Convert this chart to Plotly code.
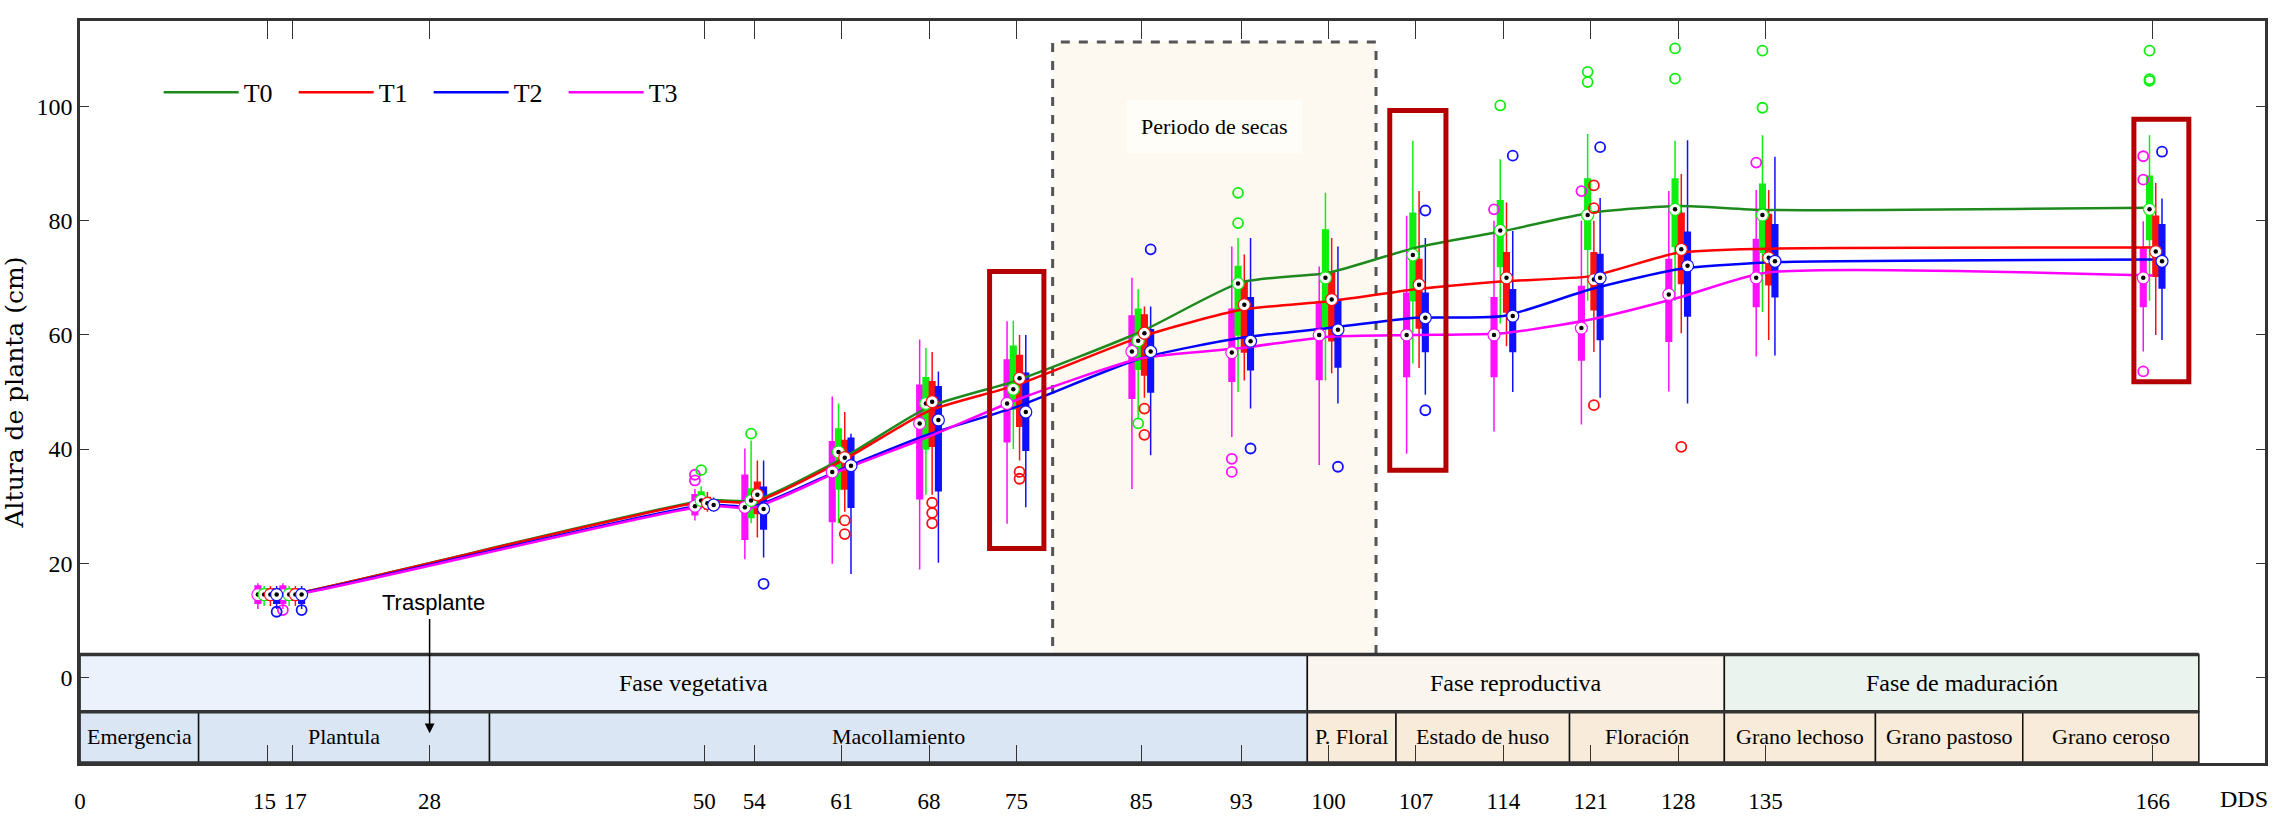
import plotly.graph_objects as go

# ---------------- data ----------------
days = [15, 17, 50, 54, 61, 68, 75, 85, 93, 100, 107, 114, 121, 128, 135, 166]
tick_days = [0, 15, 17, 28, 50, 54, 61, 68, 75, 85, 93, 100, 107, 114, 121, 128, 135, 166]
tick_labels = ["0", "15\u00a0", "\u00a017", "28", "50", "54", "61", "68", "75", "85", "93",
               "100", "107", "114", "121", "128", "135", "166"]
y_ticks = [0, 20, 40, 60, 80, 100]

# mean lines
mean_T0 = [14.5, 14.6, 31.0, 31.0, 38.3, 47.4, 52.0, 60.6, 69.2, 70.9, 75.3, 78.2, 81.4, 82.6, 81.9, 82.3]
mean_T1 = [14.5, 14.6, 30.8, 30.7, 37.9, 46.7, 51.2, 59.7, 64.4, 65.9, 68.0, 69.4, 70.3, 74.4, 75.1, 75.3]
mean_T2 = [14.5, 14.5, 30.2, 30.0, 36.5, 42.6, 47.4, 55.9, 59.5, 61.2, 63.0, 63.3, 68.0, 71.5, 72.7, 73.2]
mean_T3 = [14.5, 14.4, 30.0, 29.8, 36.3, 42.2, 48.6, 55.9, 57.7, 59.7, 60.0, 60.3, 62.7, 66.5, 70.9, 70.4]

# box statistics: lower whisker, q1, median, q3, upper whisker
lo_T0 = [12.5, 12.5, 29.5, 27.0, 27.0, 32.0, 40.0, 45.5, 50.0, 52.0, 55.0, 62.0, 66.0, 66.0, 64.0, 66.0]
q1_T0 = [13.5, 13.5, 30.0, 28.0, 33.0, 40.0, 47.0, 54.0, 60.0, 61.5, 66.0, 72.0, 75.0, 75.5, 74.5, 76.7]
md_T0 = [14.5, 14.5, 31.0, 31.0, 39.5, 48.0, 50.5, 59.0, 69.0, 70.0, 74.0, 78.3, 81.0, 82.0, 81.0, 82.0]
q3_T0 = [15.5, 15.5, 32.5, 33.0, 43.5, 52.5, 58.0, 64.5, 72.0, 78.4, 81.3, 83.5, 87.3, 87.3, 86.4, 87.8]
hi_T0 = [16.0, 16.0, 33.5, 41.5, 48.0, 57.7, 62.5, 68.0, 77.0, 84.9, 94.0, 90.8, 95.2, 94.0, 95.0, 95.0]
out_T0_x = [50, 54, 85, 93, 93, 114, 121, 121, 128, 128, 135, 135, 166, 166, 166]
out_T0_y = [36.3, 42.7, 44.5, 84.9, 79.6, 100.2, 106.1, 104.3, 110.2, 104.9, 109.8, 99.8, 109.8, 104.8, 104.5]

lo_T1 = [12.5, 12.5, 29.0, 24.5, 29.0, 32.0, 38.0, 49.0, 52.0, 53.3, 54.2, 58.0, 57.0, 60.3, 59.1, 60.0]
q1_T1 = [13.5, 13.5, 29.5, 28.7, 33.0, 40.5, 44.0, 53.0, 57.0, 59.0, 61.2, 64.0, 64.4, 69.0, 68.8, 70.3]
md_T1 = [14.5, 14.5, 30.5, 32.0, 38.5, 48.3, 52.4, 60.3, 65.3, 66.2, 68.8, 70.0, 69.7, 75.0, 73.5, 74.6]
q3_T1 = [15.5, 15.5, 31.5, 34.2, 41.5, 51.8, 56.4, 63.5, 69.5, 71.0, 73.2, 74.4, 74.4, 81.3, 81.1, 80.8]
hi_T1 = [16.0, 16.0, 32.5, 38.0, 46.5, 57.0, 60.0, 65.0, 74.1, 77.0, 85.2, 83.2, 80.0, 88.2, 85.4, 86.6]
out_T1_x = [61, 61, 68, 68, 68, 75, 75, 85, 85, 121, 121, 121, 128]
out_T1_y = [27.5, 25.1, 30.6, 28.8, 27.0, 36.0, 34.8, 47.1, 42.5, 86.2, 82.2, 47.7, 40.4]

lo_T2 = [12.0, 12.0, 29.0, 21.0, 18.1, 20.1, 29.8, 38.9, 47.1, 48.0, 49.5, 50.0, 49.0, 48.0, 56.4, 59.1]
q1_T2 = [13.0, 13.0, 29.5, 26.0, 29.8, 32.7, 39.8, 50.0, 53.9, 54.4, 57.1, 57.1, 59.2, 63.3, 66.7, 68.2]
md_T2 = [14.5, 14.5, 30.2, 29.5, 37.1, 45.1, 46.5, 57.1, 58.9, 60.9, 63.0, 63.3, 70.0, 72.1, 72.9, 72.9]
q3_T2 = [15.5, 15.5, 31.0, 33.3, 41.9, 50.9, 53.3, 60.9, 66.5, 66.2, 67.3, 67.9, 74.1, 78.0, 79.3, 79.3]
hi_T2 = [16.0, 16.0, 31.5, 38.0, 42.7, 53.6, 60.0, 65.0, 77.0, 75.5, 77.0, 78.2, 84.0, 94.1, 91.2, 83.9]
out_T2_x = [15, 17, 54, 85, 93, 100, 107, 107, 114, 121, 166]
out_T2_y = [11.5, 11.8, 16.4, 75.0, 40.1, 36.9, 81.8, 46.8, 91.4, 92.9, 92.1]

lo_T3 = [12.0, 12.0, 27.5, 20.7, 19.9, 18.9, 26.9, 33.0, 42.1, 37.2, 39.2, 43.1, 44.3, 50.1, 56.2, 57.1]
q1_T3 = [13.0, 13.0, 28.5, 24.2, 27.3, 31.3, 41.3, 48.9, 51.9, 52.2, 52.7, 52.7, 55.6, 58.9, 65.0, 65.0]
md_T3 = [14.5, 14.5, 30.0, 29.8, 36.0, 44.5, 48.0, 57.1, 56.9, 60.0, 60.0, 60.0, 61.2, 67.1, 70.0, 70.0]
q3_T3 = [16.0, 16.0, 32.0, 35.4, 41.3, 51.2, 55.6, 63.3, 64.5, 65.6, 67.3, 66.5, 68.5, 73.2, 76.7, 75.0]
hi_T3 = [16.5, 16.5, 33.0, 40.1, 49.2, 59.2, 62.4, 70.0, 75.5, 72.0, 80.9, 80.0, 80.0, 85.2, 85.4, 79.9]
out_T3_x = [17, 50, 50, 93, 93, 114, 121, 135, 166, 166, 166]
out_T3_y = [11.8, 34.5, 35.5, 38.3, 36.0, 82.0, 85.2, 90.2, 91.3, 87.2, 53.6]

# phenological phases (days)
phase_names = ["Fase vegetativa", "Fase reproductiva", "Fase de maduración"]
phase_start = [0, 98.3, 131.7]
phase_end = [98.3, 131.7, 169.7]
stage_names = ["Emergencia", "Plantula", "Macollamiento", "P. Floral", "Estado de huso",
               "Floración", "Grano lechoso", "Grano pastoso", "Grano ceroso"]
stage_start = [0, 9.5, 32.8, 98.3, 105.4, 119.3, 131.7, 143.8, 155.6]
stage_end = [9.5, 32.8, 98.3, 105.4, 119.3, 131.7, 143.8, 155.6, 169.7]
dry_period = [77.9, 103.8]
highlight_x0 = [72.85, 104.9, 164.5]
highlight_x1 = [77.2, 109.4, 168.9]
highlight_y0 = [22.6, 36.3, 51.8]
highlight_y1 = [71.1, 99.3, 97.8]
transplant_day = 28

# ---------------- styling ----------------
serif = "Liberation Serif"
box_col = {"T0": "#10EE10", "T1": "#FF1010", "T2": "#1010FF", "T3": "#FF10FF"}
line_col = {"T0": "#1E8A1E", "T1": "#FF0000", "T2": "#0000FF", "T3": "#FF00FF"}
offset = {"T0": -0.25, "T1": 0.25, "T2": 0.75, "T3": -0.75}

stats = {
    "T0": (lo_T0, q1_T0, md_T0, q3_T0, hi_T0, out_T0_x, out_T0_y, mean_T0),
    "T1": (lo_T1, q1_T1, md_T1, q3_T1, hi_T1, out_T1_x, out_T1_y, mean_T1),
    "T2": (lo_T2, q1_T2, md_T2, q3_T2, hi_T2, out_T2_x, out_T2_y, mean_T2),
    "T3": (lo_T3, q1_T3, md_T3, q3_T3, hi_T3, out_T3_x, out_T3_y, mean_T3),
}
order = ["T3", "T0", "T1", "T2"]

fig = go.Figure()

for t in order:
    lo, q1, md, q3, hi, ox, oy, mn = stats[t]
    pos = [d + offset[t] for d in days]
    fig.add_trace(go.Box(
        x=pos, q1=q1, median=md, q3=q3, lowerfence=lo, upperfence=hi,
        fillcolor=box_col[t], line=dict(color=box_col[t], width=1.5),
        width=0.45, whiskerwidth=0, boxpoints=False, showlegend=False,
        hoverinfo="skip"))

for t in ["T0", "T1", "T2", "T3"]:
    mn = stats[t][7]
    fig.add_trace(go.Scatter(
        x=days, y=mn, mode="lines", name=t,
        line=dict(color=line_col[t], width=2.5, shape="spline", smoothing=0.6)))

for t in order:
    lo, q1, md, q3, hi, ox, oy, mn = stats[t]
    pos = [d + offset[t] for d in days]
    fig.add_trace(go.Scatter(
        x=pos, y=md, mode="markers", showlegend=False, hoverinfo="skip",
        marker=dict(symbol="circle", size=12, color="white",
                    line=dict(color=box_col[t], width=1.2))))
    fig.add_trace(go.Scatter(
        x=pos, y=md, mode="markers", showlegend=False, hoverinfo="skip",
        marker=dict(symbol="circle", size=4.5, color="black")))
    fig.add_trace(go.Scatter(
        x=[d + offset[t] for d in ox], y=oy, mode="markers", showlegend=False,
        hoverinfo="skip",
        marker=dict(symbol="circle-open", size=10, color=box_col[t],
                    line=dict(width=1.8))))

shapes = []
# dry period
shapes.append(dict(type="rect", xref="x", yref="y", x0=dry_period[0], x1=dry_period[1],
                   y0=4, y1=111.3, fillcolor="#FDF9F0", layer="below",
                   line=dict(color="#555555", width=3, dash="dash")))
# phase table
phase_fill = ["#EBF2FB", "#FAF5EE", "#EBF3EF"]
for i in range(len(phase_names)):
    shapes.append(dict(type="rect", xref="x", yref="y", x0=phase_start[i], x1=phase_end[i],
                       y0=-6, y1=4, fillcolor=phase_fill[i], layer="below",
                       line=dict(color="#111111", width=1.5)))
for i in range(len(stage_names)):
    fill = "#DBE6F5" if stage_end[i] <= 98.3 else "#F8EBDA"
    shapes.append(dict(type="rect", xref="x", yref="y", x0=stage_start[i], x1=stage_end[i],
                       y0=-15, y1=-6, fillcolor=fill, layer="below",
                       line=dict(color="#111111", width=1.5)))
for yy in [4, -6]:
    shapes.append(dict(type="line", xref="x", yref="y", x0=0, x1=phase_end[-1], y0=yy, y1=yy,
                       layer="below", line=dict(color="#333333", width=3.5)))
shapes.append(dict(type="line", xref="x", yref="y", x0=0, x1=phase_end[-1], y0=-15, y1=-15,
                   layer="above", line=dict(color="#333333", width=3.5)))
# highlight rectangles
for i in range(3):
    shapes.append(dict(type="rect", xref="x", yref="y", x0=highlight_x0[i], x1=highlight_x1[i],
                       y0=highlight_y0[i], y1=highlight_y1[i], layer="above",
                       line=dict(color="#B40000", width=5)))

ann = []
for i in range(len(phase_names)):
    ann.append(dict(x=(phase_start[i] + phase_end[i]) / 2, y=-1.0, xref="x", yref="y",
                    text=phase_names[i], showarrow=False, font=dict(size=24, family=serif, color="black")))
for i in range(len(stage_names)):
    ann.append(dict(x=(stage_start[i] + stage_end[i]) / 2, y=-10.4, xref="x", yref="y",
                    text=stage_names[i], showarrow=False, font=dict(size=22, family=serif, color="black")))
ann.append(dict(x=90.9, y=96.6, xref="x", yref="y", text="Periodo de secas", showarrow=False,
                bgcolor="#FFFDF8", borderpad=14,
                font=dict(size=22, family=serif, color="black")))
ann.append(dict(x=transplant_day + 0.3, y=13.1, xref="x", yref="y", text="Trasplante", showarrow=False,
                font=dict(size=22, family="Liberation Sans Narrow, Liberation Sans", color="black")))
ann.append(dict(x=transplant_day, y=-9.8, ax=transplant_day, ay=10.5, xref="x", yref="y",
                axref="x", ayref="y", text="", showarrow=True, arrowhead=2, arrowsize=1.3,
                arrowwidth=1.5, arrowcolor="black"))
ann.append(dict(x=173.3, y=-0.0485, xref="x", yref="paper", text="DDS", showarrow=False,
                yanchor="middle", font=dict(size=24, family=serif, color="black")))

fig.update_layout(
    width=2285, height=816,
    margin=dict(l=80, r=20, t=21, b=53),
    paper_bgcolor="white", plot_bgcolor="white",
    font=dict(family=serif, size=24, color="black"),
    shapes=shapes, annotations=ann,
    boxmode="overlay",
    legend=dict(orientation="h", x=0.036, y=0.904, xanchor="left", yanchor="middle",
                bgcolor="rgba(0,0,0,0)", font=dict(size=26, family=serif),
                itemwidth=75, entrywidth=45, entrywidthmode="pixels"),
    xaxis=dict(range=[0, 175], tickmode="array", tickvals=tick_days,
               ticktext=tick_labels, tickangle=0, automargin=False,
               ticks="inside", ticklen=18, tickcolor="#333333", mirror="ticks",
               showline=True, linecolor="#333333", linewidth=2.5,
               showgrid=False, zeroline=False, ticklabelstandoff=16,
               tickfont=dict(size=23, family=serif)),
    yaxis=dict(range=[-15, 115], tickmode="array", tickvals=y_ticks, automargin=False,
               ticks="inside", ticklen=9, tickcolor="#333333", mirror="ticks",
               showline=True, linecolor="#333333", linewidth=2.5,
               showgrid=False, zeroline=False,
               tickfont=dict(size=24, family=serif),
               title=dict(text="Altura de planta (cm)", standoff=8,
                          font=dict(size=25, family="DejaVu Serif"))),
)

fig.write_html("out.html")
